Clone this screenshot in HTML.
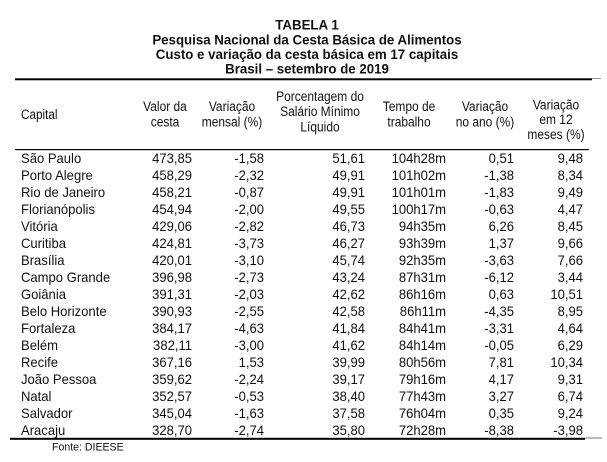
<!DOCTYPE html>
<html>
<head>
<meta charset="utf-8">
<style>
html,body{margin:0;padding:0;background:#fff;}
svg{display:block;}
text{font-family:"Liberation Sans",Arial,sans-serif;fill:#111;}
.t{font-weight:bold;font-size:13.5px;}
.h{font-size:14px;}
.b{font-size:13.9px;}
.f{font-size:11.5px;}
</style>
</head>
<body>
<svg width="607" height="462" viewBox="0 0 607 462" xmlns="http://www.w3.org/2000/svg">
<rect width="607" height="462" fill="#fff"/>
<!-- Title -->
<g text-anchor="middle">
<g transform="translate(307,0) scale(0.985,1)">
<text class="t" x="0" y="29.5">TABELA 1</text>
<text class="t" x="0" y="44.5">Pesquisa Nacional da Cesta Básica de Alimentos</text>
<text class="t" x="0" y="59">Custo e variação da cesta básica em 17 capitais</text>
<text class="t" x="0" y="73.5">Brasil – setembro de 2019</text>
</g>
</g>
<!-- Rules -->
<rect x="15" y="78.3" width="577" height="2" fill="#000"/>
<rect x="592" y="78" width="9" height="1" fill="#999"/>
<rect x="15" y="149" width="574" height="1.2" fill="#000"/>
<rect x="10" y="437.8" width="575" height="2" fill="#000"/>
<rect x="585" y="437.5" width="17" height="1" fill="#777"/>

<!-- Header -->
<g transform="translate(21,0) scale(0.84,1)"><text class="h" x="0" y="119">Capital</text></g>
<g transform="translate(165,0) scale(0.855,1)" text-anchor="middle">
<text class="h" x="0" y="111">Valor da</text>
<text class="h" x="0" y="126.5">cesta</text>
</g>
<g transform="translate(232,0) scale(0.855,1)" text-anchor="middle">
<text class="h" x="0" y="111">Variação</text>
<text class="h" x="0" y="126.5">mensal (%)</text>
</g>
<g transform="translate(320,0) scale(0.855,1)" text-anchor="middle">
<text class="h" x="0" y="101">Porcentagem do</text>
<text class="h" x="0" y="116">Salário Mínimo</text>
<text class="h" x="0" y="131.5">Líquido</text>
</g>
<g transform="translate(409,0) scale(0.855,1)" text-anchor="middle">
<text class="h" x="0" y="111">Tempo de</text>
<text class="h" x="0" y="126.5">trabalho</text>
</g>
<g transform="translate(485,0) scale(0.855,1)" text-anchor="middle">
<text class="h" x="0" y="111">Variação</text>
<text class="h" x="0" y="126.5">no ano (%)</text>
</g>
<g transform="translate(556,0) scale(0.855,1)" text-anchor="middle">
<text class="h" x="0" y="109.5">Variação</text>
<text class="h" x="0" y="124">em 12</text>
<text class="h" x="0" y="139">meses (%)</text>
</g>

<!-- Body: capital names -->
<g transform="translate(21,0) scale(0.94,1)">
<text class="b" x="0" y="163">São Paulo</text>
<text class="b" x="0" y="180">Porto Alegre</text>
<text class="b" x="0" y="197">Rio de Janeiro</text>
<text class="b" x="0" y="214">Florianópolis</text>
<text class="b" x="0" y="231">Vitória</text>
<text class="b" x="0" y="248">Curitiba</text>
<text class="b" x="0" y="265">Brasília</text>
<text class="b" x="0" y="282">Campo Grande</text>
<text class="b" x="0" y="299">Goiânia</text>
<text class="b" x="0" y="316">Belo Horizonte</text>
<text class="b" x="0" y="333">Fortaleza</text>
<text class="b" x="0" y="350">Belém</text>
<text class="b" x="0" y="367">Recife</text>
<text class="b" x="0" y="384">João Pessoa</text>
<text class="b" x="0" y="401">Natal</text>
<text class="b" x="0" y="418">Salvador</text>
<text class="b" x="0" y="435">Aracaju</text>
</g>

<!-- Valor da cesta -->
<g text-anchor="end" transform="translate(192,0) scale(0.94,1)">
<text class="b" x="0" y="163">473,85</text>
<text class="b" x="0" y="180">458,29</text>
<text class="b" x="0" y="197">458,21</text>
<text class="b" x="0" y="214">454,94</text>
<text class="b" x="0" y="231">429,06</text>
<text class="b" x="0" y="248">424,81</text>
<text class="b" x="0" y="265">420,01</text>
<text class="b" x="0" y="282">396,98</text>
<text class="b" x="0" y="299">391,31</text>
<text class="b" x="0" y="316">390,93</text>
<text class="b" x="0" y="333">384,17</text>
<text class="b" x="0" y="350">382,11</text>
<text class="b" x="0" y="367">367,16</text>
<text class="b" x="0" y="384">359,62</text>
<text class="b" x="0" y="401">352,57</text>
<text class="b" x="0" y="418">345,04</text>
<text class="b" x="0" y="435">328,70</text>
</g>

<!-- Variação mensal -->
<g text-anchor="end" transform="translate(264,0) scale(0.94,1)">
<text class="b" x="0" y="163">-1,58</text>
<text class="b" x="0" y="180">-2,32</text>
<text class="b" x="0" y="197">-0,87</text>
<text class="b" x="0" y="214">-2,00</text>
<text class="b" x="0" y="231">-2,82</text>
<text class="b" x="0" y="248">-3,73</text>
<text class="b" x="0" y="265">-3,10</text>
<text class="b" x="0" y="282">-2,73</text>
<text class="b" x="0" y="299">-2,03</text>
<text class="b" x="0" y="316">-2,55</text>
<text class="b" x="0" y="333">-4,63</text>
<text class="b" x="0" y="350">-3,00</text>
<text class="b" x="0" y="367">1,53</text>
<text class="b" x="0" y="384">-2,24</text>
<text class="b" x="0" y="401">-0,53</text>
<text class="b" x="0" y="418">-1,63</text>
<text class="b" x="0" y="435">-2,74</text>
</g>

<!-- Porcentagem -->
<g text-anchor="end" transform="translate(365,0) scale(0.94,1)">
<text class="b" x="0" y="163">51,61</text>
<text class="b" x="0" y="180">49,91</text>
<text class="b" x="0" y="197">49,91</text>
<text class="b" x="0" y="214">49,55</text>
<text class="b" x="0" y="231">46,73</text>
<text class="b" x="0" y="248">46,27</text>
<text class="b" x="0" y="265">45,74</text>
<text class="b" x="0" y="282">43,24</text>
<text class="b" x="0" y="299">42,62</text>
<text class="b" x="0" y="316">42,58</text>
<text class="b" x="0" y="333">41,84</text>
<text class="b" x="0" y="350">41,62</text>
<text class="b" x="0" y="367">39,99</text>
<text class="b" x="0" y="384">39,17</text>
<text class="b" x="0" y="401">38,40</text>
<text class="b" x="0" y="418">37,58</text>
<text class="b" x="0" y="435">35,80</text>
</g>

<!-- Tempo de trabalho -->
<g text-anchor="end" transform="translate(446,0) scale(0.94,1)">
<text class="b" x="0" y="163">104h28m</text>
<text class="b" x="0" y="180">101h02m</text>
<text class="b" x="0" y="197">101h01m</text>
<text class="b" x="0" y="214">100h17m</text>
<text class="b" x="0" y="231">94h35m</text>
<text class="b" x="0" y="248">93h39m</text>
<text class="b" x="0" y="265">92h35m</text>
<text class="b" x="0" y="282">87h31m</text>
<text class="b" x="0" y="299">86h16m</text>
<text class="b" x="0" y="316">86h11m</text>
<text class="b" x="0" y="333">84h41m</text>
<text class="b" x="0" y="350">84h14m</text>
<text class="b" x="0" y="367">80h56m</text>
<text class="b" x="0" y="384">79h16m</text>
<text class="b" x="0" y="401">77h43m</text>
<text class="b" x="0" y="418">76h04m</text>
<text class="b" x="0" y="435">72h28m</text>
</g>

<!-- Variação no ano -->
<g text-anchor="end" transform="translate(514,0) scale(0.94,1)">
<text class="b" x="0" y="163">0,51</text>
<text class="b" x="0" y="180">-1,38</text>
<text class="b" x="0" y="197">-1,83</text>
<text class="b" x="0" y="214">-0,63</text>
<text class="b" x="0" y="231">6,26</text>
<text class="b" x="0" y="248">1,37</text>
<text class="b" x="0" y="265">-3,63</text>
<text class="b" x="0" y="282">-6,12</text>
<text class="b" x="0" y="299">0,63</text>
<text class="b" x="0" y="316">-4,35</text>
<text class="b" x="0" y="333">-3,31</text>
<text class="b" x="0" y="350">-0,05</text>
<text class="b" x="0" y="367">7,81</text>
<text class="b" x="0" y="384">4,17</text>
<text class="b" x="0" y="401">3,27</text>
<text class="b" x="0" y="418">0,35</text>
<text class="b" x="0" y="435">-8,38</text>
</g>

<!-- Variação em 12 meses -->
<g text-anchor="end" transform="translate(583,0) scale(0.94,1)">
<text class="b" x="0" y="163">9,48</text>
<text class="b" x="0" y="180">8,34</text>
<text class="b" x="0" y="197">9,49</text>
<text class="b" x="0" y="214">4,47</text>
<text class="b" x="0" y="231">8,45</text>
<text class="b" x="0" y="248">9,66</text>
<text class="b" x="0" y="265">7,66</text>
<text class="b" x="0" y="282">3,44</text>
<text class="b" x="0" y="299">10,51</text>
<text class="b" x="0" y="316">8,95</text>
<text class="b" x="0" y="333">4,64</text>
<text class="b" x="0" y="350">6,29</text>
<text class="b" x="0" y="367">10,34</text>
<text class="b" x="0" y="384">9,31</text>
<text class="b" x="0" y="401">6,74</text>
<text class="b" x="0" y="418">9,24</text>
<text class="b" x="0" y="435">-3,98</text>
</g>

<!-- Source -->
<g transform="translate(52,0) scale(0.92,1)"><text class="f" x="0" y="450.5">Fonte: DIEESE</text></g>
</svg>
</body>
</html>
